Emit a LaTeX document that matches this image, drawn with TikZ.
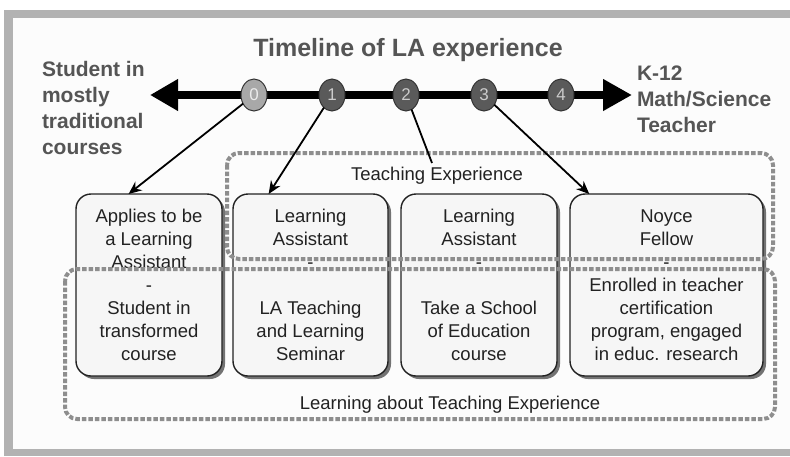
\documentclass[tikz,border=0pt]{standalone}
\usepackage{fontspec}
\setmainfont{Liberation Sans}
\usetikzlibrary{arrows.meta,shadows,shapes.geometric,calc}
\definecolor{framegray}{HTML}{B2B2B2}
\definecolor{ink}{HTML}{222222}
\definecolor{headgray}{HTML}{555555}
\definecolor{dotgray}{HTML}{8E8E8E}
\definecolor{boxfill}{HTML}{F6F6F6}
\definecolor{milefill}{HTML}{5A5A5A}
\definecolor{startfill}{HTML}{A8A8A8}

\begin{document}
\begin{tikzpicture}[x=1pt,y=-1pt,
  every node/.style={inner sep=0pt, outer sep=0pt},
  stagebox/.style={draw=ink, line width=1.4pt, rounded corners=15pt, fill=boxfill,
    minimum height=182pt, align=center, text=ink,
    font=\fontsize{18.5}{23}\selectfont,
    drop shadow={shadow xshift=3pt, shadow yshift=-3pt, fill=black!55, opacity=1}},
  milestone/.style={ellipse, draw=black!80, line width=1pt, fill=milefill,
    minimum width=26pt, minimum height=32pt, text=black!20,
    font=\fontsize{17}{17}\selectfont},
  lead/.style={text=headgray, font=\bfseries\fontsize{21}{26}\selectfont},
  region/.style={draw=dotgray, line width=4pt, dash pattern=on 4.5pt off 2pt,
    rounded corners=12pt},
  regionlabel/.style={text=ink, font=\fontsize{18.5}{23}\selectfont},
  link/.style={draw=black, line width=1.8pt, -{Stealth[length=13pt,width=11pt]}}
]
% canvas and grey frame
\useasboundingbox (0,0) rectangle (790,456);
\fill[white] (0,0) rectangle (790,456);
\fill[framegray] (4,10) rectangle (790,456);
\fill[white!99!black] (13,18) rectangle (790,449);

% heading and end labels
\node[text=headgray, font=\bfseries\fontsize{25}{30}\selectfont] (title) at (408,50) {Timeline of LA experience};
\node[lead, anchor=west, align=left] (start) at (42,108) {Student in\\mostly\\traditional\\courses};
\node[lead, anchor=west, align=left] (goal) at (637,99) {K-12\\Math/Science\\Teacher};

% timeline
\coordinate (tl-left) at (150,95);
\coordinate (tl-right) at (632,95);
\draw[line width=8pt, {Triangle[length=28pt,width=30pt]}-{Triangle[length=29pt,width=30pt]}] (tl-left) -- (tl-right);
\node[milestone, fill=startfill, text=black!8] (m0) at (254,95) {0};
\node[milestone] (m1) at (332,95) {1};
\node[milestone] (m2) at (406,95) {2};
\node[milestone] (m3) at (484,95) {3};
\node[milestone] (m4) at (561,95) {4};

% stage boxes
\node[stagebox, minimum width=146pt] (boxA) at (149,285)
  {Applies to be\\a Learning\\Assistant\\-\\Student in\\transformed\\course};
\node[stagebox, minimum width=155pt] (boxB) at (310.5,285)
  {Learning\\Assistant\\-\\~\\LA Teaching\\and Learning\\Seminar};
\node[stagebox, minimum width=156pt] (boxC) at (479,285)
  {Learning\\Assistant\\-\\~\\Take a School\\of Education\\course};
\node[stagebox, minimum width=193pt] (boxD) at (666.5,285)
  {Noyce\\Fellow\\-\\Enrolled in teacher\\certification\\program, engaged\\in educ. research};

% experience regions
\draw[region] (227,153) rectangle (773,259);
\node[regionlabel] (teachlbl) at (437,176) {Teaching Experience};
\draw[region] (65,269) rectangle (775,419);
\node[regionlabel] (learnlbl) at (450,405) {Learning about Teaching Experience};

% connectors from milestones
\coordinate (m2-end) at (432,163);
\draw[link] (m0) -- ($(boxA.north west)!0.36!(boxA.north east)$);
\draw[link] (m1) -- ($(boxB.north west)!0.23!(boxB.north east)$);
\draw[draw=black, line width=1.8pt] (m2) -- (m2-end);
\draw[link] (m3) -- ($(boxD.north west)!0.10!(boxD.north east)$);
\end{tikzpicture}
\end{document}
